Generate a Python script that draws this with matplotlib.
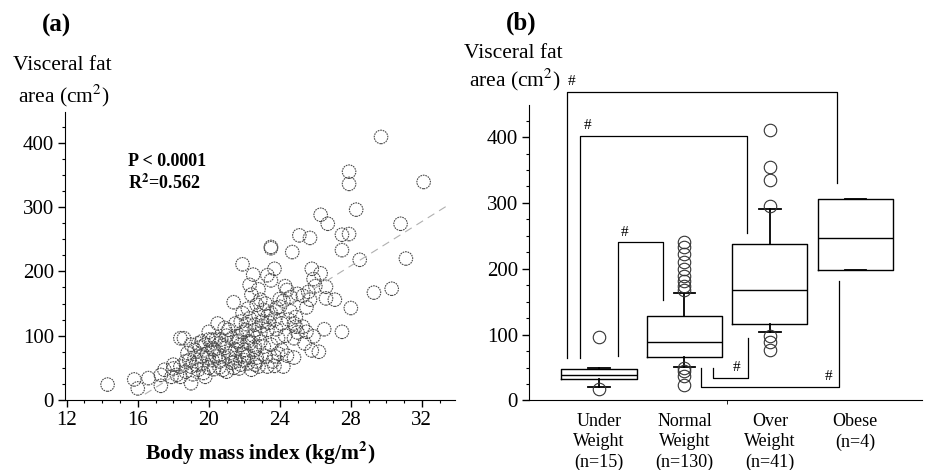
import numpy as np
import matplotlib
matplotlib.use("Agg")
import matplotlib.pyplot as plt
from matplotlib.ticker import MultipleLocator, FixedLocator

plt.rcParams['font.family'] = ['Liberation Serif', 'DejaVu Serif']
plt.rcParams['mathtext.fontset'] = 'stix'

# (a) 散点数据: BMI 与内脏脂肪面积
bmi = [29.7, 27.9, 27.9, 32.1, 28.3, 26.3, 26.7, 30.8, 25.1, 25.7, 27.5, 27.9,
       27.5, 24.7, 23.5, 23.5, 28.5, 31.1, 21.9, 22.5, 23.7, 23.3, 23.5, 25.8,
       26.3, 25.9, 26.0, 26.6, 24.3, 24.4, 29.3, 30.3, 22.3, 22.8, 22.4, 25.0,
       25.3, 25.7, 26.6, 27.1, 25.5, 28.0, 21.4, 22.9, 24.0, 24.2, 23.8, 23.1,
       22.7, 21.9, 24.6, 24.1, 23.7, 23.3, 23.0, 22.6, 22.3, 21.8, 21.5, 24.9,
       24.8, 24.9, 25.3, 25.5, 26.5, 27.5, 23.9, 24.8, 25.4, 25.9, 25.8, 26.2,
       23.5, 23.7, 23.2, 23.7, 23.3, 24.2, 24.4, 24.8, 22.8, 22.4, 20.5, 20.0,
       21.1, 20.6, 20.2, 19.8, 19.6, 20.9, 21.5, 21.8, 22.2, 21.9, 22.2, 22.6,
       21.5, 21.1, 20.6, 20.2, 19.6, 19.2, 18.8, 19.2, 19.6, 18.7, 18.4, 18.6,
       19.0, 19.4, 19.7, 20.3, 20.6, 20.8, 21.8, 21.7, 21.5, 22.2, 22.7, 18.7,
       18.2, 18.0, 17.9, 17.5, 17.3, 17.3, 18.0, 16.6, 15.8, 16.0, 14.3, 18.4,
       19.0, 18.4, 20.0, 20.3, 20.7, 21.3, 21.6, 22.0, 23.1, 24.1, 22.6, 22.9,
       23.3, 22.6, 22.1, 21.6, 20.4, 20.0, 19.4, 19.0, 19.8,
       20.2, 20.8, 21.0, 21.2, 22.0, 22.3, 22.5, 23.0, 23.4, 22.8, 21.9, 20.6,
       19.9, 19.3, 21.4, 22.6, 23.6, 24.0, 23.2, 21.7, 20.4, 19.5, 18.9, 22.1,
       23.8, 24.5, 25.0, 20.0, 21.3, 22.9, 23.5, 22.2, 24.3, 21.0, 19.1, 20.9,
       22.7, 23.9, 24.6, 25.6]
vfa = [409, 355, 336, 339, 296, 288, 274, 274, 256, 252, 257, 258,
       233, 230, 236, 238, 218, 220, 211, 195, 204, 194, 186, 204,
       197, 188, 177, 176, 177, 171, 167, 173, 179, 172, 164, 165,
       162, 156, 158, 156, 144, 143, 152, 156, 157, 154, 143, 140,
       148, 135, 138, 119, 125, 130, 122, 117, 127, 122, 119, 129,
       119, 114, 114, 106, 110, 106, 96, 96, 88, 99, 77, 75,
       86, 68, 68, 53, 52, 52, 69, 66, 52, 47, 119, 106,
       109, 88, 94, 86, 91, 81, 78, 86, 91, 70, 68, 78,
       65, 68, 70, 62, 68, 78, 73, 65, 57, 60, 96, 96,
       52, 47, 42, 48, 51, 47, 55, 49, 60, 57, 60, 44,
       39, 49, 36, 47, 39, 22, 55, 34, 32, 18, 24, 36,
       26, 52, 65, 78, 94, 96, 91, 78, 83, 78, 83, 104,
       109, 109, 109, 99, 94, 94, 88, 86, 36,
       80, 85, 100, 73, 62, 88, 100, 115, 120, 132, 105, 60,
       72, 55, 50, 55, 60, 145, 150, 92, 68, 82, 62, 118,
       110, 125, 105, 50, 58, 90, 135, 142, 100, 44, 40, 112,
       66, 72, 160, 168]

# 回归线 (从图中读出的两端点)
fit_x = [16.4, 33.6]
fit_y = [9, 305]

# (b) 箱线图数据
groups = ['Under\nWeight\n(n=15)', 'Normal\nWeight\n(n=130)', 'Over\nWeight\n(n=41)', 'Obese\n(n=4)']
q1 = [33, 66, 116, 198]
med = [38, 89, 168, 247]
q3 = [48, 129, 238, 306]
whis_lo = [21, 50.5, 104.6, 198]
whis_hi = [49.5, 163, 291, 306]
fliers = [
    [96, 18],
    [167, 174, 181, 189, 199, 210, 223, 233, 241, 50, 44, 37, 24],
    [296, 335, 355, 410, 98, 88, 76],
    [],
]

# 显著性括号: (左x, 左y底, 横线y, 右x, 右y端, '#'位置)
brackets = [
    (0.63, 65, 469, 3.78, 330, (0.68, 485)),
    (0.78, 65, 402, 2.73, 254, (0.86, 417)),
    (1.22, 67, 240, 1.75, 153, (1.30, 255)),
    (2.33, 49.5, 34, 2.74, 95, (2.61, 50)),
    (2.19, 49.5, 21, 3.81, 182, (3.69, 37)),
]

fig = plt.figure(figsize=(9.28, 4.70), dpi=100)

# ---------- (a) ----------
ax1 = fig.add_axes([0.070, 0.149, 0.420, 0.613])
ax1.scatter(bmi, vfa, s=95, facecolors='none', edgecolors='#4a4a4a',
            linewidths=0.8, linestyle=(0, (1.5, 0.8)), clip_on=False)
ax1.plot(fit_x, fit_y, color='#b0b0b0', lw=0.8, dashes=(7, 5))
ax1.set_xlim(11.9, 33.85)
ax1.set_ylim(0, 448)
ax1.spines['top'].set_visible(False)
ax1.spines['right'].set_visible(False)
ax1.xaxis.set_major_locator(FixedLocator([12, 16, 20, 24, 28, 32]))
ax1.xaxis.set_minor_locator(MultipleLocator(1))
ax1.yaxis.set_major_locator(FixedLocator([0, 100, 200, 300, 400]))
ax1.yaxis.set_minor_locator(MultipleLocator(25))
ax1.tick_params(which='major', direction='out', length=5, width=1, labelsize=15, pad=3)
ax1.tick_params(which='minor', direction='out', length=2.5, width=0.8)
ax1.set_xlabel('Body mass index (kg/m$^\\mathbf{2}$)', fontsize=15.5,
               fontweight='bold', labelpad=6)
fig.text(128 / 928, 1 - 162 / 470, 'P < 0.0001', fontsize=13, fontweight='bold',
         va='center', ha='left')
fig.text(128 / 928, 1 - 183 / 470, 'R$^\\mathbf{2}$=0.562', fontsize=13,
         fontweight='bold', va='center', ha='left')
fig.text(57 / 928, 1 - 25 / 470, '(a)', fontsize=18, fontweight='bold',
         ha='center', va='center')
fig.text(62 / 928, 1 - 66 / 470, 'Visceral fat', fontsize=15.5, ha='center', va='center')
fig.text(64 / 928, 1 - 96 / 470, 'area (cm$^2$)', fontsize=15.5, ha='center', va='center')

# ---------- (b) ----------
ax2 = fig.add_axes([0.570, 0.148, 0.4235, 0.629])
stats = []
for i in range(len(groups)):
    stats.append(dict(med=med[i], q1=q1[i], q3=q3[i], whislo=whis_lo[i],
                      whishi=whis_hi[i], fliers=fliers[i]))
pos = np.arange(1, len(groups) + 1)
ax2.bxp(stats, positions=pos, widths=0.88, capwidths=0.25, showfliers=True,
        boxprops=dict(color='black', lw=1),
        medianprops=dict(color='black', lw=1),
        whiskerprops=dict(color='black', lw=1.3),
        capprops=dict(color='black', lw=1.3),
        flierprops=dict(marker='o', markersize=9, markerfacecolor='none',
                        markeredgecolor='#333333', markeredgewidth=0.8))
for (xl, yl, yh, xr, yr, hp) in brackets:
    ax2.plot([xl, xl, xr, xr], [yl, yh, yh, yr], color='black', lw=0.9,
             clip_on=False)
    ax2.text(hp[0], hp[1], '#', fontsize=11, ha='center', va='center')
ax2.set_xlim(0.18, 4.78)
ax2.set_ylim(0, 449)
ax2.spines['top'].set_visible(False)
ax2.spines['right'].set_visible(False)
ax2.set_xticks(pos, groups, fontsize=13, linespacing=1.25)
ax2.xaxis.set_minor_locator(FixedLocator([2.5]))
ax2.yaxis.set_major_locator(FixedLocator([0, 100, 200, 300, 400]))
ax2.yaxis.set_minor_locator(MultipleLocator(25))
ax2.tick_params(axis='x', which='major', length=0, pad=9)
ax2.tick_params(axis='x', which='minor', length=3, direction='out')
ax2.tick_params(axis='y', which='major', direction='out', length=5, width=1,
                labelsize=15, pad=3)
ax2.tick_params(axis='y', which='minor', direction='out', length=2.5, width=0.8)
fig.text(521 / 928, 1 - 23 / 470, '(b)', fontsize=18, fontweight='bold',
         ha='center', va='center')
fig.text(513 / 928, 1 - 53 / 470, 'Visceral fat', fontsize=15.5, ha='center', va='center')
fig.text(515 / 928, 1 - 80 / 470, 'area (cm$^2$)', fontsize=15.5, ha='center', va='center')

fig.savefig('out.png', dpi=100)
